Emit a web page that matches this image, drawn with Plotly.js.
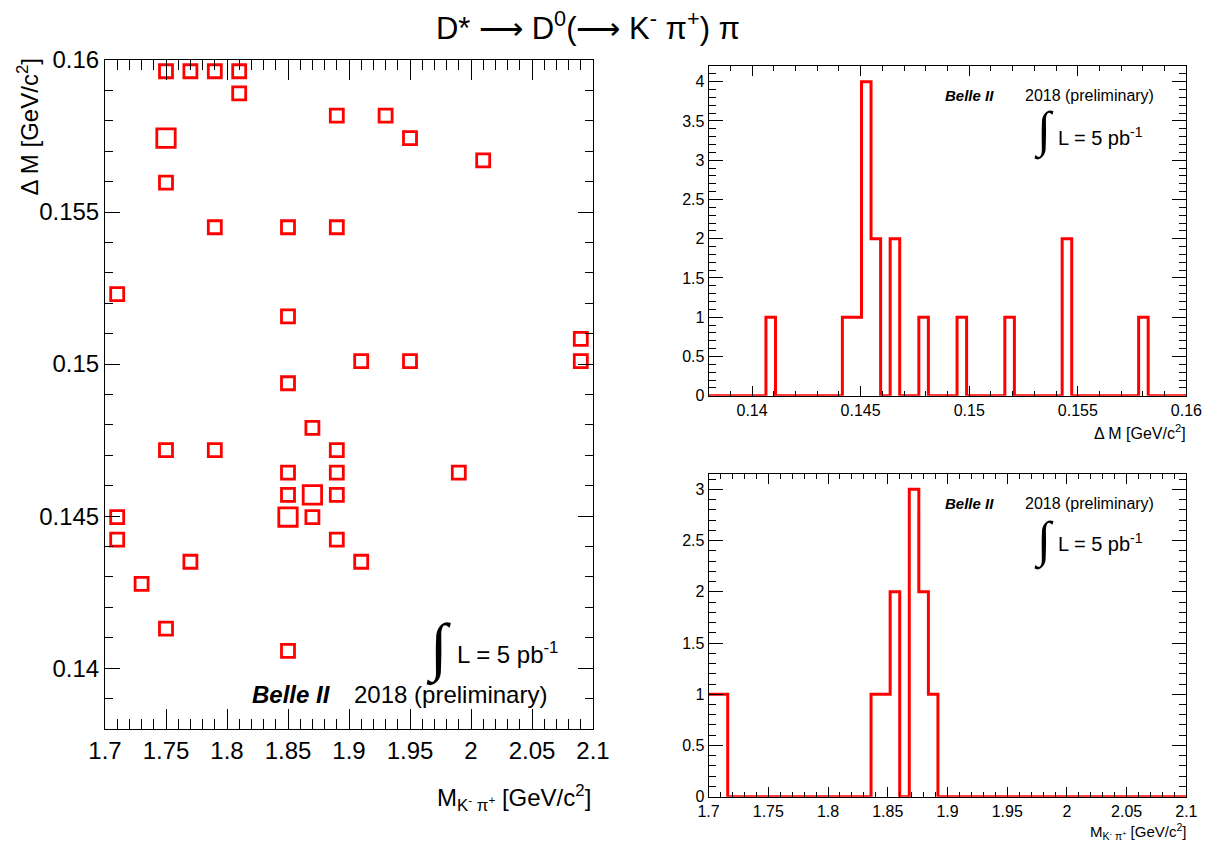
<!DOCTYPE html>
<html>
<head>
<meta charset="utf-8">
<script src="https://cdn.plot.ly/plotly-3.0.1.min.js"></script>
<style>html,body{margin:0;padding:0;background:#fff;}#chart{width:1218px;height:845px;}</style>
</head>
<body>
<div id="chart"></div>
<script>
// ---- 2D box plot: Delta M vs M(K pi) (bin centres) ----
const scatterX = [1.75,1.77,1.79,1.81,1.81,1.75,1.75,1.79,1.85,1.89,1.71,1.89,1.93,1.95,2.01,1.85,1.85,1.91,1.95,2.09,2.09,1.87,1.75,1.79,1.89,1.85,1.89,1.99,1.85,1.87,1.89,1.85,1.87,1.71,1.71,1.89,1.91,1.77,1.73,1.75,1.85];
const scatterY = [0.15963,0.15963,0.15963,0.15963,0.15890,0.15743,0.15597,0.15450,0.15450,0.15450,0.15230,0.15817,0.15817,0.15743,0.15670,0.15157,0.14937,0.15010,0.15010,0.15083,0.15010,0.14790,0.14717,0.14717,0.14717,0.14643,0.14643,0.14643,0.14570,0.14570,0.14570,0.14497,0.14497,0.14497,0.14423,0.14423,0.14350,0.14350,0.14277,0.14130,0.14057];
const scatterCounts = [1,1,1,1,1,2,1,1,1,1,1,1,1,1,1,1,1,1,1,1,1,1,1,1,1,1,1,1,1,2,1,2,1,1,1,1,1,1,1,1,1];

// ---- 1D histogram of Delta M: 50 bins from 0.138 to 0.16 ----
const dmRange = [0.138, 0.16];
const dmCounts = [0,0,0,0,0,0,1,0,0,0, 0,0,0,0,1,1,4,2,0,2, 0,0,1,0,0,0,1,0,0,0, 0,1,0,0,0,0,0,2,0,0, 0,0,0,0,0,1,0,0,0,0];

// ---- 1D histogram of M(K pi): 50 bins from 1.7 to 2.1 ----
const mkpiRange = [1.7, 2.1];
const mkpiCounts = [1,1,0,0,0,0,0,0,0,0, 0,0,0,0,0,0,0,1,1,2, 0,3,2,1,0,0,0,0,0,0, 0,0,0,0,0,0,0,0,0,0, 0,0,0,0,0,0,0,0,0,0];

const W = 1218, H = 845;
const px = x => x / W;
const py = y => 1 - y / H;
const FONT = 'Liberation Sans, Arial, Helvetica, sans-serif';
const INTFONT = 'Liberation Serif, DejaVu Serif, serif';
const RED = '#ff0000';

function histTrace(range, counts, xa, ya) {
  const n = counts.length, w = (range[1] - range[0]) / n;
  const xs = [], ys = [];
  for (let i = 0; i <= n; i++) {
    xs.push(range[0] + i * w);
    ys.push(i < n ? counts[i] : counts[n - 1]);
  }
  return {x: xs, y: ys, xaxis: xa, yaxis: ya, type: 'scatter', mode: 'lines',
          line: {shape: 'hv', color: RED, width: 3}, hoverinfo: 'skip'};
}

const traces = [
  {x: scatterX, y: scatterY, type: 'scatter', mode: 'markers', xaxis: 'x', yaxis: 'y',
   marker: {symbol: 'square-open', color: RED, opacity: 1, size: scatterCounts.map(c => 13 * Math.sqrt(c)),
            line: {color: RED, width: 2.8}}, cliponaxis: false},
  histTrace(dmRange, dmCounts, 'x2', 'y2'),
  histTrace(mkpiRange, mkpiCounts, 'x3', 'y3')
];

function axis(o) {
  return Object.assign({
    showgrid: false, zeroline: false, showline: true, linecolor: '#000', linewidth: 1,
    mirror: 'allticks', ticks: 'inside', tickcolor: '#000', tickwidth: 1,
    automargin: false, fixedrange: true,
    tickfont: {family: FONT, size: 16, color: '#000'}
  }, o);
}

const layout = {
  width: W, height: H,
  margin: {l: 0, r: 0, t: 0, b: 0},
  paper_bgcolor: '#fff', plot_bgcolor: '#fff',
  showlegend: false,
  title: {text: 'D* ⟶ D<sup>0</sup>(⟶ K<sup>-</sup> π<sup>+</sup>) π', x: 588 / W, xanchor: 'center',
          y: py(28), yanchor: 'middle', font: {family: FONT, size: 31, color: '#000'}},
  xaxis: axis({domain: [px(105), px(593)], range: [1.7, 2.1], anchor: 'y', dtick: 0.05, tick0: 1.7,
               ticklen: 20, minor: {dtick: 0.01, ticklen: 10, ticks: 'inside', tickcolor: '#000'},
               tickfont: {family: FONT, size: 24, color: '#000'}}),
  yaxis: axis({domain: [py(729), py(60)], range: [0.138, 0.16], anchor: 'x', dtick: 0.005, tick0: 0.14,
               ticklen: 15, minor: {dtick: 0.001, ticklen: 8, ticks: 'inside', tickcolor: '#000'},
               tickfont: {family: FONT, size: 24, color: '#000'}}),
  xaxis2: axis({domain: [px(708.6), px(1186.4)], range: dmRange, anchor: 'y2', dtick: 0.005, tick0: 0.14,
                ticklen: 10, minor: {dtick: 0.001, ticklen: 5, ticks: 'inside', tickcolor: '#000'}}),
  yaxis2: axis({domain: [py(395.7), py(66)], range: [0, 4.2], anchor: 'x2', dtick: 0.5, tick0: 0,
                ticklen: 14, minor: {dtick: 0.1, ticklen: 7, ticks: 'inside', tickcolor: '#000'}}),
  xaxis3: axis({domain: [px(708.6), px(1186.4)], range: mkpiRange, anchor: 'y3', dtick: 0.05, tick0: 1.7,
                ticklen: 10, minor: {dtick: 0.01, ticklen: 5, ticks: 'inside', tickcolor: '#000'}}),
  yaxis3: axis({domain: [py(796.7), py(474)], range: [0, 3.15], anchor: 'x3', dtick: 0.5, tick0: 0,
                ticklen: 14, minor: {dtick: 0.1, ticklen: 7, ticks: 'inside', tickcolor: '#000'}}),
  annotations: []
};

function ann(text, x, y, size, xanchor, extra) {
  layout.annotations.push(Object.assign({
    text: text, xref: 'paper', yref: 'paper', x: px(x), y: py(y), xanchor: xanchor, yanchor: 'middle',
    showarrow: false, font: {family: FONT, size: size, color: '#000'}
  }, extra || {}));
}

// axis titles
ann('M<sub>K<sup>-</sup> π<sup>+</sup></sub> [GeV/c<sup>2</sup>]', 593, 798, 24, 'right');
ann('Δ M [GeV/c<sup>2</sup>]', 27, 57, 24, 'center', {textangle: -90, yanchor: 'top'});
ann('Δ M [GeV/c<sup>2</sup>]', 1188, 432, 16, 'right');
ann('M<sub>K<sup>-</sup> π<sup>+</sup></sub> [GeV/c<sup>2</sup>]', 1188, 831, 15, 'right');

// left panel labels
ann('<b><i>Belle II</i></b>', 291, 694, 24, 'center');
ann('2018 (preliminary)', 352, 694, 24, 'left');
ann('∫', 438, 648, 64, 'center', {font: {family: INTFONT, size: 64, color: '#000'}});
ann('L = 5 pb<sup>-1</sup>', 455, 653, 24, 'left');

// right panels labels
[[96, 131, 137], [503, 540, 542]].forEach(r => {
  ann('<b><i>Belle II</i></b>', 969, r[0], 15, 'center');
  ann('2018 (preliminary)', 1023, r[0], 16, 'left');
  ann('∫', 1044, r[1], 50, 'center', {font: {family: INTFONT, size: 50, color: '#000'}});
  ann('L = 5 pb<sup>-1</sup>', 1056, r[2], 20, 'left');
});

Plotly.newPlot('chart', traces, layout, {displayModeBar: false, staticPlot: true});
</script>
</body>
</html>
